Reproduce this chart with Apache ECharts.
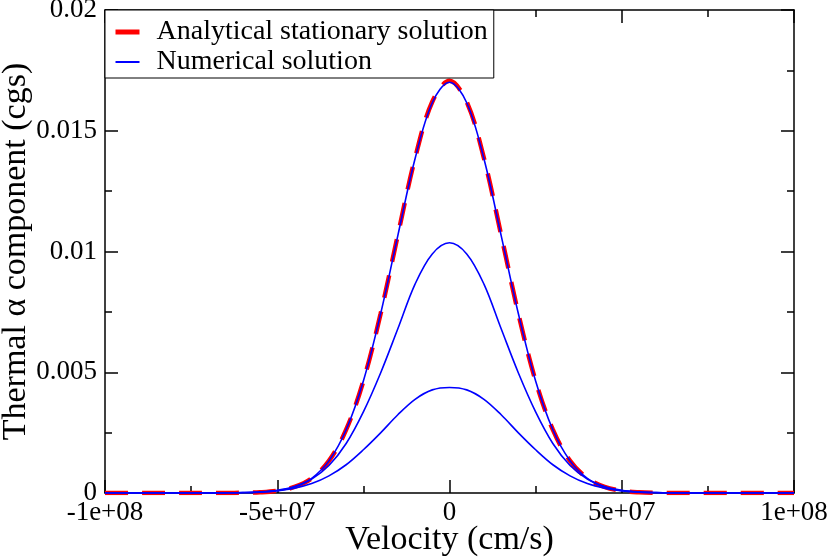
<!DOCTYPE html>
<html>
<head>
<meta charset="utf-8">
<script src="https://cdn.jsdelivr.net/npm/echarts@6/dist/echarts.min.js"></script>
<style>
html, body { margin: 0; padding: 0; background: #fff; }
#chart { width: 830px; height: 559px; }
</style>
</head>
<body>
<div id="chart"></div>
<script>
// velocity grid (cm/s), every 5e6
var velocity = [
    -1e8, -9.5e7, -9e7, -8.5e7, -8e7, -7.5e7, -7e7, -6.5e7, -6e7, -5.5e7,
    -5e7, -4.5e7, -4e7, -3.5e7, -3e7, -2.5e7, -2e7, -1.5e7, -1e7, -5e6,
    0,
    5e6, 1e7, 1.5e7, 2e7, 2.5e7, 3e7, 3.5e7, 4e7, 4.5e7, 5e7,
    5.5e7, 6e7, 6.5e7, 7e7, 7.5e7, 8e7, 8.5e7, 9e7, 9.5e7, 1e8
];
var analytical = [
    0, 0, 0, 0, 0, 0, 0, 0.0000026, 0.0000094, 0.000031,
    0.000093, 0.00025, 0.00061, 0.00133, 0.00262, 0.00464, 0.00742, 0.01068, 0.01386, 0.01620,
    0.01707,
    0.01620, 0.01386, 0.01068, 0.00742, 0.00464, 0.00262, 0.00133, 0.00061, 0.00025, 0.000093,
    0.000031, 0.0000094, 0.0000026, 0, 0, 0, 0, 0, 0, 0
];
var numericalLate = [
    0, 0, 0, 0, 0, 0, 0, 0.0000026, 0.0000094, 0.000031,
    0.000093, 0.00025, 0.00061, 0.00133, 0.00262, 0.00464, 0.00742, 0.01066, 0.01384, 0.01616,
    0.01701,
    0.01616, 0.01384, 0.01066, 0.00742, 0.00464, 0.00262, 0.00133, 0.00061, 0.00025, 0.000093,
    0.000031, 0.0000094, 0.0000026, 0, 0, 0, 0, 0, 0, 0
];
var numericalMid = [
    0, 0, 0, 0, 0, 0, 0.0000015, 0.000005, 0.000016, 0.000045,
    0.000115, 0.00027, 0.00058, 0.00114, 0.00205, 0.00336, 0.00497, 0.00680, 0.00865, 0.00990,
    0.01036,
    0.00990, 0.00865, 0.00680, 0.00497, 0.00336, 0.00205, 0.00114, 0.00058, 0.00027, 0.000115,
    0.000045, 0.000016, 0.000005, 0.0000015, 0, 0, 0, 0, 0, 0
];
var numericalEarly = [
    0, 0, 0, 0, 0, 0.000001, 0.000003, 0.000007, 0.000018, 0.000043,
    0.000095, 0.00020, 0.00039, 0.00071, 0.00117, 0.00179, 0.00249, 0.00324, 0.00388, 0.00427,
    0.00437,
    0.00427, 0.00388, 0.00324, 0.00249, 0.00179, 0.00117, 0.00071, 0.00039, 0.00020, 0.000095,
    0.000043, 0.000018, 0.000007, 0.000003, 0.000001, 0, 0, 0, 0, 0
];
var xTickLabels = ['-1e+08', '-5e+07', '0', '5e+07', '1e+08'];
var yTickLabels = ['0', '0.005', '0.01', '0.015', '0.02'];

function pairs(ys) {
    var out = [];
    for (var i = 0; i < velocity.length; i++) {
        out.push([velocity[i], ys[i]]);
    }
    return out;
}

var font = 'Liberation Serif';
var chart = echarts.init(document.getElementById('chart'));

var frameTick = { show: true, inside: true, length: 13, lineStyle: { color: '#000', width: 1.5 } };
var frameMinor = { show: true, splitNumber: 2, length: 7, lineStyle: { color: '#000', width: 1.5 } };
var frameLine = { show: true, onZero: false, lineStyle: { color: '#000', width: 1.5 } };

function blue(data) {
    return {
        name: 'Numerical solution',
        type: 'line',
        xAxisIndex: 0,
        yAxisIndex: 0,
        symbol: 'none',
        smooth: 0.35,
        lineStyle: { color: '#0000ff', width: 1.6 },
        itemStyle: { color: '#0000ff' },
        data: pairs(data)
    };
}

var option = {
    animation: false,
    grid: { left: 105, right: 36, top: 10, bottom: 66, containLabel: false, outerBoundsMode: 'none' },
    legend: {
        orient: 'vertical',
        left: 105,
        top: 10,
        backgroundColor: '#fff',
        borderColor: '#000',
        borderWidth: 1,
        padding: [8, 6, 2, 8],
        itemGap: 2,
        itemWidth: 24,
        itemHeight: 14,
        textStyle: { fontFamily: font, fontSize: 28, color: '#000', padding: [0, 0, 0, 12] },
        data: [
            { name: 'Analytical stationary solution', itemStyle: { opacity: 0 }, lineStyle: { type: 'solid', width: 5 } },
            { name: 'Numerical solution', itemStyle: { opacity: 0 }, lineStyle: { width: 2 } }
        ]
    },
    xAxis: [
        {
            type: 'value',
            min: -1e8,
            max: 1e8,
            interval: 5e7,
            name: 'Velocity (cm/s)',
            nameLocation: 'middle',
            nameGap: 30,
            nameMoveOverlap: false,
            nameTextStyle: { fontFamily: font, fontSize: 34, color: '#000' },
            axisLine: frameLine,
            axisTick: frameTick,
            minorTick: frameMinor,
            splitLine: { show: false },
            axisLabel: {
                fontFamily: font, fontSize: 27, color: '#000', margin: 6,
                formatter: function (v) { return xTickLabels[Math.round((v + 1e8) / 5e7)]; }
            }
        },
        {
            type: 'value',
            position: 'top',
            min: -1e8,
            max: 1e8,
            interval: 5e7,
            axisLine: frameLine,
            axisTick: frameTick,
            minorTick: frameMinor,
            splitLine: { show: false },
            axisLabel: { show: false }
        }
    ],
    yAxis: [
        {
            type: 'value',
            min: 0,
            max: 0.02,
            interval: 0.005,
            name: 'Thermal α component (cgs)',
            nameLocation: 'middle',
            nameGap: 72,
            nameMoveOverlap: false,
            nameTextStyle: { fontFamily: font, fontSize: 34, color: '#000' },
            axisLine: frameLine,
            axisTick: frameTick,
            minorTick: frameMinor,
            splitLine: { show: false },
            axisLabel: {
                fontFamily: font, fontSize: 27, color: '#000', margin: 8,
                formatter: function (v) { return yTickLabels[Math.round(v / 0.005)]; }
            }
        },
        {
            type: 'value',
            position: 'right',
            min: 0,
            max: 0.02,
            interval: 0.005,
            axisLine: frameLine,
            axisTick: frameTick,
            minorTick: frameMinor,
            splitLine: { show: false },
            axisLabel: { show: false }
        }
    ],
    series: [
        {
            name: 'Analytical stationary solution',
            type: 'line',
            xAxisIndex: 0,
            yAxisIndex: 0,
            symbol: 'none',
            smooth: 0.35,
            lineStyle: { color: '#ff0000', width: 4.5, type: [23, 14] },
            itemStyle: { color: '#ff0000' },
            data: pairs(analytical)
        },
        blue(numericalLate),
        blue(numericalMid),
        blue(numericalEarly)
    ]
};
chart.setOption(option);
window.onresize = chart.resize;
</script>
</body>
</html>
